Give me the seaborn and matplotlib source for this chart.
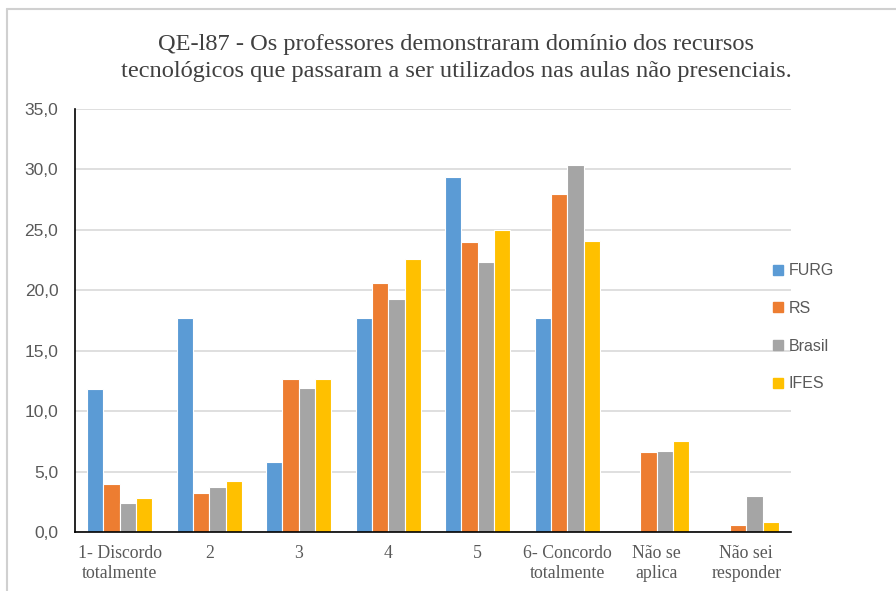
import matplotlib
matplotlib.use("Agg")
import matplotlib.pyplot as plt
from matplotlib.lines import Line2D
from matplotlib.ticker import FuncFormatter
import seaborn as sns
import pandas as pd

categories = ["1- Discordo\ntotalmente", "2", "3", "4", "5",
              "6- Concordo\ntotalmente", "Não se\naplica", "Não sei\nresponder"]
series = ["FURG", "RS", "Brasil", "IFES"]
furg = [11.8, 17.7, 5.8, 17.7, 29.4, 17.7, 0.0, 0.0]
rs = [4.0, 3.2, 12.7, 20.6, 24.0, 28.0, 6.6, 0.6]
brasil = [2.4, 3.7, 11.9, 19.3, 22.3, 30.4, 6.7, 3.0]
ifes = [2.8, 4.2, 12.7, 22.6, 25.0, 24.1, 7.5, 0.8]
colors = ["#5B9BD5", "#ED7D31", "#A5A5A5", "#FFC000"]
title = ("QE-l87 - Os professores demonstraram domínio dos recursos\n"
         "tecnológicos que passaram a ser utilizados nas aulas não presenciais.")

rows = []
for name, vals in zip(series, [furg, rs, brasil, ifes]):
    for cat, v in zip(categories, vals):
        rows.append({"categoria": cat, "serie": name, "valor": v})
df = pd.DataFrame(rows)

sns.set_theme(style="white")
plt.rcParams["font.family"] = ["Liberation Sans", "DejaVu Sans"]

fig = plt.figure(figsize=(8.96, 5.91), dpi=100)
ax = fig.add_axes([75 / 896, 1 - 532 / 591, (791 - 75) / 896, (532 - 109) / 591])

sns.barplot(data=df, x="categoria", y="valor", hue="serie", order=categories,
            hue_order=series, palette=colors, width=0.73, saturation=1,
            edgecolor="white", linewidth=0.8, ax=ax, legend=False)

ax.set_ylim(0, 35)
ax.set_xlim(-0.5, len(categories) - 0.5)
ax.set_yticks(range(0, 36, 5))
ax.yaxis.set_major_formatter(FuncFormatter(lambda v, p: f"{v:.1f}".replace(".", ",")))
ax.grid(axis="y", color="#d9d9d9", linewidth=1.2)
ax.set_axisbelow(True)
ax.set_xlabel("")
ax.set_ylabel("")
for s in ["top", "right"]:
    ax.spines[s].set_visible(False)
for s in ["left", "bottom"]:
    ax.spines[s].set_color("black")
    ax.spines[s].set_linewidth(1.2)
ax.tick_params(axis="y", length=0, pad=12, labelsize=12.5, labelcolor="#595959")
ax.tick_params(axis="x", length=0, pad=9, labelsize=12.8, labelcolor="#595959")
for lbl in ax.get_xticklabels():
    lbl.set_fontfamily("Liberation Serif")
    lbl.set_linespacing(1.3)

handles = [Line2D([0], [0], marker="s", linestyle="", markersize=7.5,
                  markerfacecolor=c, markeredgecolor=c) for c in colors]
fig.legend(handles, series, loc="upper left", bbox_to_anchor=(757 / 896, 1 - 249 / 591),
           frameon=False, handlelength=0.8, handletextpad=0.3, labelspacing=1.42,
           fontsize=11.5, labelcolor="#595959")

fig.text(456 / 896, 1 - 58 / 591, title, ha="center", va="center",
         fontsize=17.6, family="Liberation Serif", color="#404040", linespacing=1.42)

border = "#d0d0d0"
fig.add_artist(Line2D([7 / 896, 7 / 896], [0, 1 - 9 / 591], color=border, linewidth=1.5))
fig.add_artist(Line2D([7 / 896, 1], [1 - 9 / 591, 1 - 9 / 591], color=border, linewidth=1.5))

fig.savefig("out.png", dpi=100)
